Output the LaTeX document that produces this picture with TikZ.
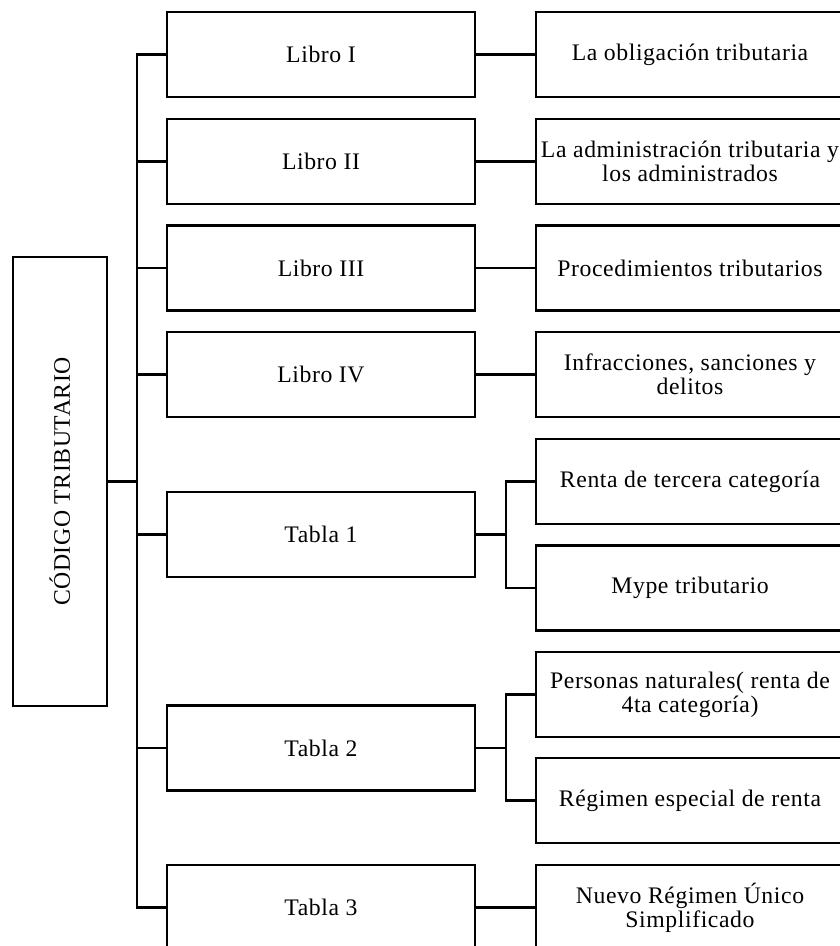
\documentclass[tikz,border=0pt]{standalone}
\usepackage{fontspec}
\setmainfont{Liberation Serif}[LetterSpace=2.5]

\begin{document}
\begin{tikzpicture}[x=1mm,y=-1mm,
  box/.style={draw, line width=0.6pt, inner sep=0pt, outer sep=0pt,
    minimum width=30.75mm, minimum height=8.5mm, align=center},
  link/.style={line width=0.6pt}]
\fontsize{6.75pt}{6.75pt}\selectfont
\useasboundingbox (0,0) rectangle (84,94.6);
\clip (0,0) rectangle (84,94.6);

\node[box, minimum width=9.43mm, minimum height=44.9mm] (codigo) at (5.985,48.15)
  {\rotatebox{90}{CÓDIGO TRIBUTARIO}};

\node[box] (libroI)   at (32.1,5.45)  {Libro I};
\node[box] (libroII)  at (32.1,16.15) {Libro II};
\node[box] (libroIII) at (32.1,26.8)  {Libro III};
\node[box] (libroIV)  at (32.1,37.45) {Libro IV};
\node[box] (tablaI)   at (32.1,53.45) {Tabla 1};
\node[box] (tablaII)  at (32.1,74.8)  {Tabla 2};
\node[box] (tablaIII) at (32.1,90.75) {Tabla 3};

\node[box] (obligacion)     at (69.0,5.45)  {La obligación tributaria};
\node[box] (administracion) at (69.0,16.15) {La administración tributaria y\\los administrados};
\node[box] (procedimientos) at (69.0,26.8)  {Procedimientos tributarios};
\node[box] (infracciones)   at (69.0,37.45) {Infracciones, sanciones y\\delitos};
\node[box] (renta)          at (69.0,48.15) {Renta de tercera categoría};
\node[box] (mype)           at (69.0,58.8)  {Mype tributario};
\node[box] (personas)       at (69.0,69.45) {Personas naturales( renta de\\4ta categoría)};
\node[box] (regimen)        at (69.0,80.05) {Régimen especial de renta};
\node[box] (nrus)           at (69.0,90.75) {Nuevo Régimen Único\\Simplificado};

% buses
\coordinate (bus) at (13.7,0);
\coordinate (subI) at (50.57,0);

\draw[link] (codigo.east) -- (codigo.east -| bus);
\draw[link] (libroI.west) -- (libroI.west -| bus) -- (tablaIII.west -| bus) -- (tablaIII.west);
\foreach \n in {libroII,libroIII,libroIV,tablaI,tablaII}
  \draw[link] (\n.west) -- (\n.west -| bus);

\draw[link] (libroI.east) -- (obligacion.west);
\draw[link] (libroII.east) -- (administracion.west);
\draw[link] (libroIII.east) -- (procedimientos.west);
\draw[link] (libroIV.east) -- (infracciones.west);
\draw[link] (tablaIII.east) -- (nrus.west);

\draw[link] (tablaI.east) -- (tablaI.east -| subI);
\draw[link] (renta.west) -- (renta.west -| subI) -- (mype.west -| subI) -- (mype.west);
\draw[link] (tablaII.east) -- (tablaII.east -| subI);
\draw[link] (personas.west) -- (personas.west -| subI) -- (regimen.west -| subI) -- (regimen.west);
\end{tikzpicture}
\end{document}
